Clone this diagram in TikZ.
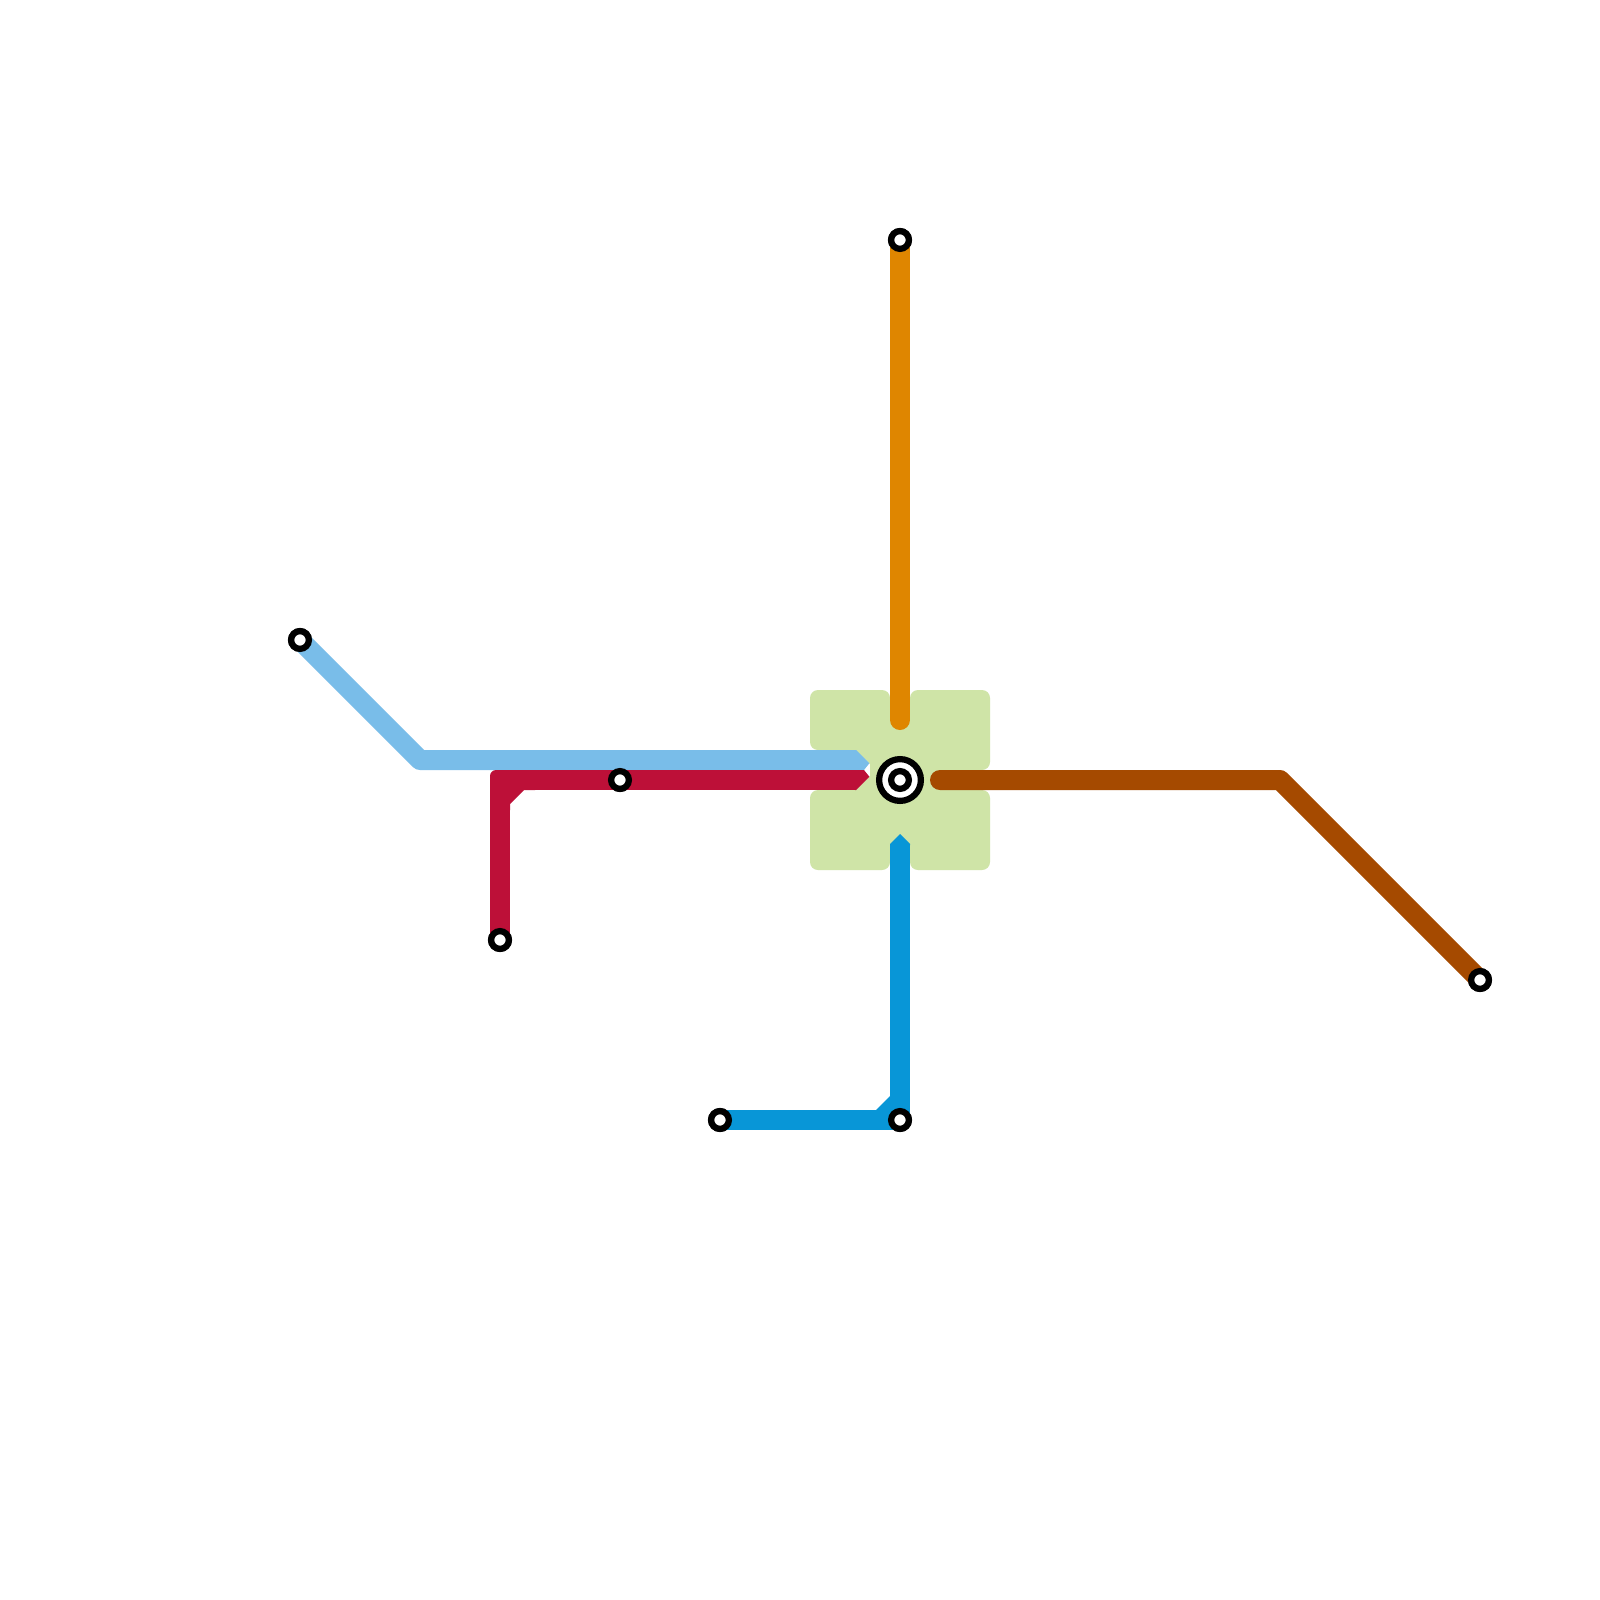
\documentclass[tikz,border=0pt]{standalone}
\definecolor{parkgreen}{HTML}{CFE4A7}
\definecolor{skyline}{HTML}{79BDE9}
\definecolor{redline}{HTML}{BD1038}
\definecolor{orangeline}{HTML}{DF8600}
\definecolor{brownline}{HTML}{A54A00}
\definecolor{blueline}{HTML}{0896D7}
\tikzset{
  metro/.style={line width=0.2cm,line join=round},
  terminus/.style={circle,draw=black,fill=white,line width=0.0625cm,minimum size=0.1775cm,inner sep=0pt,outer sep=0pt},
  parkblock/.style={fill=parkgreen,rounded corners=0.08cm},
}
\begin{document}
\begin{tikzpicture}[x=0.01cm,y=-0.01cm]
\useasboundingbox (0,0) rectangle (1600,1600);
\fill[white] (0,0) rectangle (1600,1600);
% park
\fill[parkblock] (810,690) rectangle (890,750);
\fill[parkblock] (910,690) rectangle (990,770);
\fill[parkblock] (810,790) rectangle (890,870);
\fill[parkblock] (910,790) rectangle (990,870);
\fill[parkgreen] (870,715) rectangle (930,845);
\fill[parkgreen] (925,765) rectangle (980,795);
\fill[parkgreen] (850,745) -- (870,745) -- (870,764) -- cycle;
\fill[parkgreen] (850,795) -- (870,795) -- (870,776) -- cycle;
% coordinates
\coordinate (skybend) at (420,760);
\coordinate (skyend) at (856,760);
\coordinate (redend) at (856,780);
\coordinate (orangeend) at (900,720);
\coordinate (brownstart) at (940,780);
\coordinate (brownbend) at (1280,780);
\coordinate (blueend) at (900,844);
\coordinate (bluebend) at (900,1120);
% stations
\node[terminus] (skyA) at (300,640) {};
\node[terminus] (redA) at (500,940) {};
\node[terminus] (redB) at (620,780) {};
\node[terminus] (blueA) at (720,1120) {};
\node[terminus] (blueB) at (900,1120) {};
\node[terminus] (orangeA) at (900,240) {};
\node[terminus] (brownA) at (1480,980) {};
% lines
\draw[metro,skyline] (skyA.center) -- (skybend) -- (skyend);
\fill[skyline] (855,750) -- (856,750) -- (869.3,763.3) -- (864,770) -- (855,770) -- cycle;
\draw[metro,redline] (redA.center) -- (500,795);
\draw[metro,redline] (530,780) -- (redend);
\fill[redline] (490,800) [rounded corners=0.06cm] -- (490,770) -- (535,770) [sharp corners] -- (535,790) -- (524,790) -- (510,804) -- (510,810) -- (490,810) -- cycle;
\fill[redline] (855,770) -- (864,770) -- (869.3,776.7) -- (856,790) -- (855,790) -- cycle;
\draw[metro,orangeline,line cap=round] (orangeA.center) -- (orangeend);
\draw[metro,brownline,line cap=round] (brownstart) -- (brownbend) -- (brownA.center);
\draw[metro,blueline] (blueA.center) -- (bluebend) -- (blueend);
\fill[blueline] (876,1110) -- (890,1096) -- (890,1112) -- cycle;
\fill[blueline] (890,845) -- (890,844) -- (900,834) -- (910,844) -- (910,845) -- cycle;
% interchange
\node[circle,draw=black,fill=white,line width=0.0625cm,minimum size=0.4175cm,inner sep=0pt,outer sep=0pt] (hubring) at (900,780) {};
\node[terminus] (hub) at (hubring.center) {};
% station dots above lines
\node[terminus] at (skyA.center) {};
\node[terminus] at (redA.center) {};
\node[terminus] at (redB.center) {};
\node[terminus] at (blueA.center) {};
\node[terminus] at (blueB.center) {};
\node[terminus] at (orangeA.center) {};
\node[terminus] at (brownA.center) {};
\end{tikzpicture}
\end{document}
